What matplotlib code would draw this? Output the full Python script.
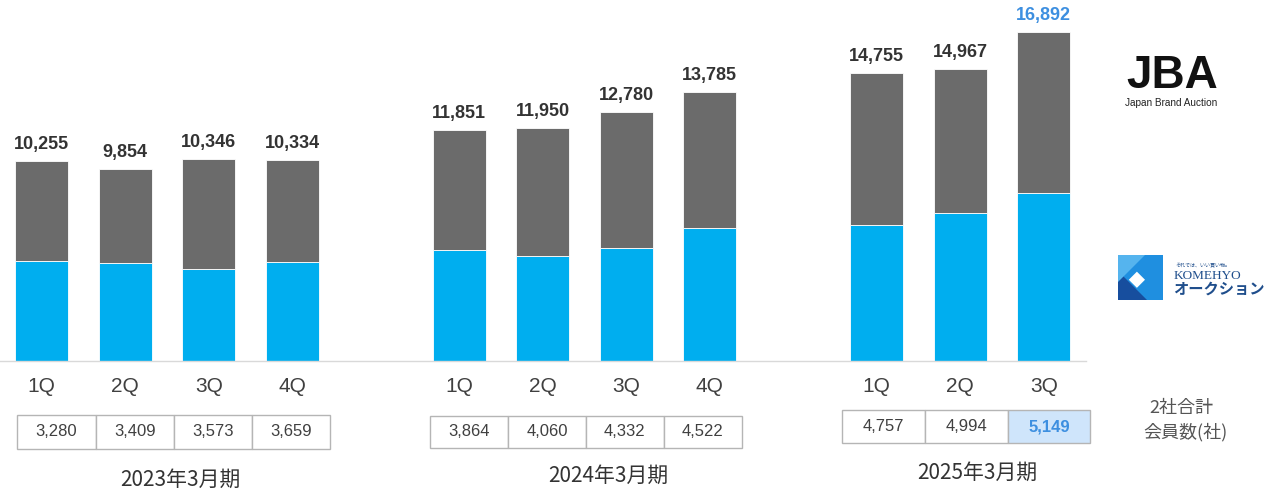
import matplotlib
matplotlib.use("Agg")
import matplotlib.pyplot as plt
from matplotlib.patches import Rectangle, Polygon
from matplotlib.transforms import blended_transform_factory

# ---- data -------------------------------------------------------------
periods = ["2023年3月期", "2024年3月期", "2025年3月期"]
quarters = [["1Q", "2Q", "3Q", "4Q"], ["1Q", "2Q", "3Q", "4Q"], ["1Q", "2Q", "3Q"]]
totals = [[10255, 9854, 10346, 10334],
          [11851, 11950, 12780, 13785],
          [14755, 14967, 16892]]
komehyo = [[5130, 5040, 4700, 5090],
           [5690, 5390, 5780, 6840],
           [6980, 7580, 8630]]
members = [["3,280", "3,409", "3,573", "3,659"],
           ["3,864", "4,060", "4,332", "4,522"],
           ["4,757", "4,994", "5,149"]]

# ---- style ------------------------------------------------------------
BLUE = "#00aeef"
GRAY = "#6b6b6b"
HILITE = "#3d8fe0"
TXT = "#333333"
LAT = ["Liberation Sans", "DejaVu Sans"]
CJK = ["Noto Sans CJK JP", "DejaVu Sans"]

W, H = 1281, 492
fig = plt.figure(figsize=(W / 100, H / 100), dpi=100)
base_px = 361
px_per_unit = 0.019495
ax = fig.add_axes([0, (H - base_px) / H, 1085.5 / W, base_px / H])
ax.set_xlim(-0.5, 12.5)
ax.set_ylim(0, base_px / px_per_unit)
for s in ("top", "right", "left"):
    ax.spines[s].set_visible(False)
ax.spines["bottom"].set_color("#d9d9d9")
ax.spines["bottom"].set_linewidth(1.0)
ax.set_xticks([])
ax.set_yticks([])

# x in data, y in figure pixels measured from the top
trans = blended_transform_factory(ax.transData, fig.transFigure)
def fy(py):
    return 1 - py / H

group_start = [0, 5, 10]
bar_w = 0.635

# table geometry per period: left edge (data x), cell width, top / bottom (px)
tables = [(-0.293, 0.937, 415, 449),
          (4.653, 0.932, 416, 448),
          (9.587, 0.990, 410, 443)]
period_label = [(1.66, 480), (6.78, 476), (11.20, 473)]

n_groups = len(periods)
for g in range(n_groups):
    xs = [group_start[g] + i for i in range(len(totals[g]))]
    jba = [t - k for t, k in zip(totals[g], komehyo[g])]
    ax.bar(xs, komehyo[g], width=bar_w, color=BLUE, edgecolor="white",
           linewidth=0.6, zorder=2)
    ax.bar(xs, jba, bottom=komehyo[g], width=bar_w, color=GRAY,
           edgecolor="white", linewidth=0.6, zorder=2)
    last = g == n_groups - 1
    for i, (x, t) in enumerate(zip(xs, totals[g])):
        hl = last and i == len(xs) - 1
        ax.annotate(f"{t:,}", (x, t), xytext=(0, 8.6), textcoords="offset points",
                    ha="center", va="baseline", fontsize=13, fontweight="bold",
                    color=HILITE if hl else TXT, family=LAT)
        ax.text(x, fy(386), quarters[g][i], transform=trans, ha="center",
                va="center", fontsize=15, color="#404040", family=LAT)

    left, cw, top, bot = tables[g]
    for i, m in enumerate(members[g]):
        hl = last and i == len(members[g]) - 1
        cx = left + i * cw
        ax.add_patch(Rectangle((cx, fy(bot)), cw, (bot - top) / H, transform=trans,
                               facecolor="#cfe5fb" if hl else "white",
                               edgecolor="#b5b5b5", linewidth=1.0, clip_on=False))
        ax.text(cx + cw / 2, fy((top + bot) / 2), m, transform=trans, ha="center",
                va="center", fontsize=12, color=HILITE if hl else "#404040",
                fontweight="bold" if hl else "normal", family=LAT)
    lx, ly = period_label[g]
    ax.text(lx, fy(ly), periods[g], transform=trans, ha="center", va="center",
            fontsize=15, color=TXT, family=CJK)

# caption for the member-count row
fig.text(1181 / W, fy(408), "2社合計", ha="center", va="center", fontsize=13,
         color="#555555", family=CJK)
fig.text(1185 / W, fy(432), "会員数(社)", ha="center", va="center", fontsize=13,
         color="#555555", family=CJK)

# JBA brand mark
fig.text(1172 / W, fy(88), "JBA", ha="center", va="baseline", fontsize=33,
         fontweight="bold", color="#111111", family=LAT)
fig.text(1171 / W, fy(103), "Japan Brand Auction", ha="center", va="center",
         fontsize=7.2, color="#222222", family=LAT)

# KOMEHYO auction brand mark
x0, y0, sz = 1118, 255, 45
def fp(px, py):
    return (px / W, fy(py))
fig.patches.append(Rectangle(fp(x0, y0 + sz), sz / W, sz / H,
                             transform=fig.transFigure, facecolor="#1f8fe0",
                             edgecolor="none"))
fig.patches.append(Polygon([fp(x0, y0 + sz * 0.35), fp(x0, y0 + sz),
                            fp(x0 + sz * 0.65, y0 + sz)],
                           transform=fig.transFigure, facecolor="#174e9e",
                           edgecolor="none"))
fig.patches.append(Polygon([fp(x0, y0), fp(x0 + sz * 0.6, y0),
                            fp(x0, y0 + sz * 0.6)],
                           transform=fig.transFigure, facecolor="#55b4ee",
                           edgecolor="none"))
cx, cy, d = x0 + sz * 0.42, y0 + sz * 0.55, sz * 0.18
fig.patches.append(Polygon([fp(cx, cy - d), fp(cx + d, cy), fp(cx, cy + d),
                            fp(cx - d, cy)],
                           transform=fig.transFigure, facecolor="white",
                           edgecolor="none"))
fig.text(1175 / W, fy(265), "それでは、いい買い物。", ha="left", va="center",
         fontsize=3.6, color="#1f4e8c", family=CJK)
fig.text(1174 / W, fy(276), "KOMEHYO", ha="left", va="center", fontsize=9.5,
         color="#1f4e8c", family=["Liberation Serif", "DejaVu Serif"])
fig.text(1173 / W, fy(289), "オークション", ha="left", va="center", fontsize=11,
         fontweight="bold", color="#1f4e8c", family=CJK)

fig.savefig("out.png", dpi=100, facecolor="white")
